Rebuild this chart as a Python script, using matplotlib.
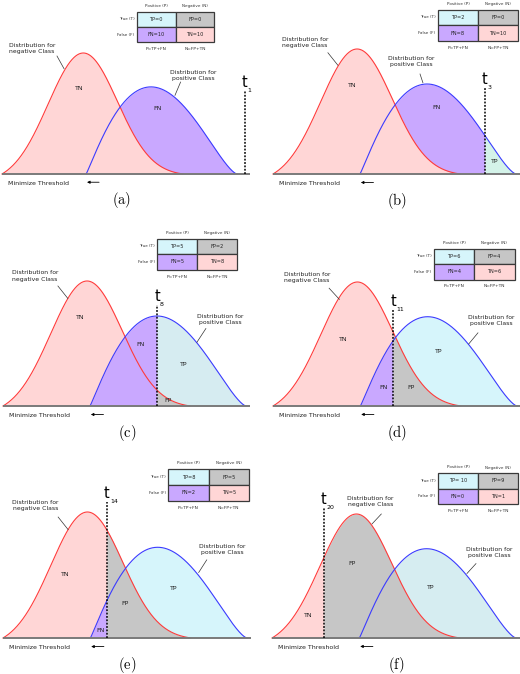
import numpy as np
import matplotlib.pyplot as plt
from matplotlib.patches import Rectangle

plt.rcParams['font.family'] = 'DejaVu Sans'
plt.rcParams['mathtext.fontset'] = 'cm'

# Thresholds and confusion-matrix counts for each panel
panel_names = ['a', 'b', 'c', 'd', 'e', 'f']
threshold_ids = [1, 3, 8, 11, 14, 20]
thresholds = [10.34, 8.72, 6.34, 4.92, 4.26, 2.13]
tp_counts = ['0', '2', '5', '6', '8', ' 10']
fp_counts = ['0', '0', '2', '4', '5', '9']
fn_counts = ['10', '8', '5', '4', '2', '0']
tn_counts = ['10', '10', '8', '6', '5', '1']

# class distributions: negative (start, peak, end, height, left spread, right spread)
neg_shape = [0.0, 3.46, 7.7, 1.0, 1.5, 1.45]
# positive (start, end, height, rise exponent, fall exponent)
pos_shape = [3.58, 10.0, 0.72, 1.1, 1.46]

# colours
c_tn = '#ffd6d6'
c_fn = '#c9a8ff'
c_fp = '#c6c6c6'
tp_colors = ['#d6f5fb', '#d4f3e9', '#d6ecf1', '#d6f5fb', '#d6f5fb', '#d6edf1']


def neg_curve(x):
    a, mu, b, h, sl, sr = neg_shape
    y = np.zeros_like(x)
    left = (x >= a) & (x <= mu)
    right = (x > mu) & (x <= b)
    gl = np.exp(-(a - mu) ** 2 / (2 * sl ** 2))
    gr = np.exp(-(b - mu) ** 2 / (2 * sr ** 2))
    y[left] = (np.exp(-(x[left] - mu) ** 2 / (2 * sl ** 2)) - gl) / (1 - gl)
    y[right] = (np.exp(-(x[right] - mu) ** 2 / (2 * sr ** 2)) - gr) / (1 - gr)
    return h * y


def pos_curve(x):
    a, b, h, p, q = pos_shape
    u = np.clip((x - a) / (b - a), 0, 1)
    m = p / (p + q)
    return h * u ** p * (1 - u) ** q / (m ** p * (1 - m) ** q)


# panel boxes in pixels: left, right (end of positive curve), baseline, negative peak
boxes = [(2, 237, 174, 53), (273, 516, 174, 49),
         (3, 246, 406, 281), (273, 517, 406, 282),
         (3, 247, 638, 512), (272, 516, 638, 514)]
line_tops = [0.69, 0.69, 0.81, 0.78, 1.08, 1.05]
table_pos = [(5.74, 1.34), (6.79, 1.315), (6.34, 1.34), (6.6, 1.27), (6.78, 1.34), (6.8, 1.33)]
neg_notes = [(1.28, 1.04, 2.34, 0.975, 2.64, 0.87),
             (1.32, 1.05, 2.26, 0.97, 2.67, 0.87),
             (1.32, 1.04, 2.26, 0.96, 2.67, 0.86),
             (1.40, 1.04, 2.30, 0.95, 2.72, 0.86),
             (1.32, 1.05, 2.26, 0.96, 2.67, 0.86),
             (4.03, 1.10, 4.48, 1.00, 4.10, 0.92)]
pos_notes = [(8.13, 0.81, 7.60, 0.76, 7.36, 0.65),
             (5.68, 0.90, 6.05, 0.80, 6.17, 0.73),
             (8.93, 0.69, 8.35, 0.62, 7.98, 0.51),
             (8.93, 0.69, 8.40, 0.59, 8.02, 0.50),
             (8.97, 0.70, 8.35, 0.62, 8.02, 0.52),
             (8.90, 0.69, 8.36, 0.60, 7.99, 0.52)]
region_labels = [
    [('TN', 3.28, 0.71), ('FN', 6.64, 0.54)],
    [('TN', 3.25, 0.71), ('FN', 6.75, 0.53), ('TP', 9.14, 0.10)],
    [('TN', 3.20, 0.71), ('FN', 5.68, 0.49), ('TP', 7.45, 0.33), ('FP', 6.78, 0.04)],
    [('TN', 2.88, 0.54), ('FN', 4.53, 0.15), ('FP', 5.64, 0.15), ('TP', 6.79, 0.44)],
    [('TN', 2.55, 0.50), ('FN', 3.99, 0.06), ('FP', 5.02, 0.27), ('TP', 7.00, 0.39)],
    [('TN', 1.48, 0.18), ('FP', 3.28, 0.60), ('TP', 6.52, 0.41)],
]

W, H = 520, 674
fig = plt.figure(figsize=(W / 100, H / 100), dpi=100)


def draw_table(ax, left, top, i):
    cw, ch = 1.65, 0.125
    cells = [(0, 0, 'TP=' + tp_counts[i], tp_colors[0]),
             (1, 0, 'FP=' + fp_counts[i], c_fp),
             (0, 1, 'FN=' + fn_counts[i], c_fn),
             (1, 1, 'TN=' + tn_counts[i], c_tn)]
    for cx, cy, txt, col in cells:
        x = left + cx * cw
        y = top - (cy + 1) * ch
        ax.add_patch(Rectangle((x, y), cw, ch, facecolor=col, edgecolor='#3a3a3a',
                               lw=0.9, clip_on=False, zorder=10))
        ax.text(x + cw / 2, y + ch / 2, txt, ha='center', va='center', fontsize=3.6,
                color='#222222', zorder=11, clip_on=False)
    ax.text(left + cw / 2, top + 0.045, 'Positive (P)', ha='center', va='center',
            fontsize=3.0, color='#333333', clip_on=False)
    ax.text(left + 1.5 * cw, top + 0.045, 'Negative (N)', ha='center', va='center',
            fontsize=3.0, color='#333333', clip_on=False)
    ax.text(left - 0.1, top - ch / 2, 'True (T)', ha='right', va='center',
            fontsize=3.0, color='#333333', clip_on=False)
    ax.text(left - 0.1, top - 1.5 * ch, 'False (F)', ha='right', va='center',
            fontsize=3.0, color='#333333', clip_on=False)
    ax.text(left + cw / 2, top - 2 * ch - 0.055, 'P=TP+FN', ha='center', va='center',
            fontsize=3.2, color='#333333', clip_on=False)
    ax.text(left + 1.5 * cw, top - 2 * ch - 0.055, 'N=FP+TN', ha='center', va='center',
            fontsize=3.2, color='#333333', clip_on=False)


for i in range(6):
    x0, x1, base, peak = boxes[i]
    ax = fig.add_axes([x0 / W, 1 - base / H, (x1 - x0) / W, (base - peak) / H])
    ax.set_xlim(0, 10)
    ax.set_ylim(0, 1)
    ax.axis('off')

    thr = thresholds[i]
    x = np.union1d(np.linspace(0, 10, 1200), [thr])
    yn = neg_curve(x)
    yp = pos_curve(x)
    left = x <= thr
    right = x >= thr

    tn_z = 2.5 if i < 2 else 1
    ax.fill_between(x, 0, yn, where=left, color=c_tn, lw=0, zorder=tn_z)
    ax.fill_between(x, 0, yp, where=left, color=c_fn, lw=0, zorder=2)
    ax.fill_between(x, 0, yp, where=right, color=tp_colors[i], lw=0, zorder=3)
    ax.fill_between(x, 0, yn, where=right, color=c_fp, lw=0, zorder=4)

    mn = (x >= neg_shape[0]) & (x <= neg_shape[2])
    mp = (x >= pos_shape[0]) & (x <= pos_shape[1])
    ax.plot(x[mn], yn[mn], color='#ff3b3b', lw=0.8, zorder=5, clip_on=False)
    ax.plot(x[mp], yp[mp], color='#3b3bff', lw=0.8, zorder=5, clip_on=False)

    base_end = max(10.15, thr + 0.2)
    ax.plot([0, base_end], [0, 0], color='#7a7a7a', lw=1.4, zorder=6, clip_on=False,
            solid_capstyle='butt')

    # threshold line and label
    ax.plot([thr, thr], [0, line_tops[i]], color='black', lw=1.1, ls=(0, (1.2, 1.0)),
            zorder=7, clip_on=False)
    ax.text(thr, line_tops[i] + 0.03, 't', ha='center', va='baseline', fontsize=10.5,
            clip_on=False)
    ax.text(thr + 0.12, line_tops[i] - 0.01, str(threshold_ids[i]), ha='left',
            va='baseline', fontsize=4.5, clip_on=False)

    for name, lx, ly in region_labels[i]:
        ax.text(lx, ly, name, ha='center', va='center', fontsize=4.5, color='#222222',
                zorder=8)

    tx, ty, ax1, ay1, ax2, ay2 = neg_notes[i]
    ax.text(tx, ty, 'Distribution for\nnegative Class', ha='center', va='center',
            fontsize=4.4, color='#222222', linespacing=1.25, clip_on=False)
    ax.plot([ax1, ax2], [ay1, ay2], color='#333333', lw=0.5, zorder=8, clip_on=False)
    tx, ty, ax1, ay1, ax2, ay2 = pos_notes[i]
    ax.text(tx, ty, 'Distribution for\npositive Class', ha='center', va='center',
            fontsize=4.4, color='#222222', linespacing=1.25, clip_on=False)
    ax.plot([ax1, ax2], [ay1, ay2], color='#333333', lw=0.5, zorder=8, clip_on=False)

    draw_table(ax, table_pos[i][0], table_pos[i][1], i)

    ax.text(0.25, -0.075, 'Minimize Threshold', ha='left', va='center', fontsize=4.5,
            color='#222222', clip_on=False)
    ax.annotate('', xy=(3.5, -0.068), xytext=(4.25, -0.068),
                arrowprops=dict(arrowstyle='-|>', lw=0.6, color='black',
                                mutation_scale=4), annotation_clip=False)
    ax.text(5.1, -0.215, r'$(\mathrm{' + panel_names[i] + '})$', ha='center',
            va='center', fontsize=10.5, clip_on=False)

fig.savefig('out.png', dpi=100, facecolor='white')
